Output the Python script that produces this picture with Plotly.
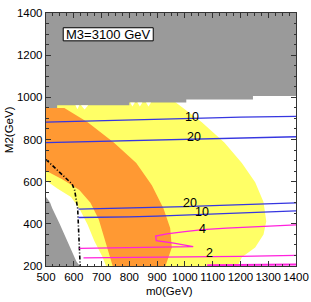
import plotly.graph_objects as go

# ---- data ----
# excluded (gray) region at top: step boundary
gray_top_m0 = [500, 500, 540, 540, 800, 800, 1005, 1005, 1245, 1245, 1400, 1400]
gray_top_M2 = [1400, 950, 950, 963, 963, 976, 976, 990, 990, 1006, 1006, 1400]

# small white notches along the gray boundary (triangles, separated by None)
notch_m0 = [606, 620, 613, None, 626, 652, 639, None, 803, 820, 811, None, 829, 847, 838, None, 860, 878, 869]
notch_M2 = [963, 963, 943, None, 963, 963, 942, None, 976, 976, 957, None, 976, 976, 957, None, 976, 976, 957]

# excluded (gray) region lower-left
gray_low_m0 = [500, 500, 507, 515, 522, 530, 540, 549, 557, 565, 573, 581, 588, 595, 603, 610, 616, 622]
gray_low_M2 = [200, 527, 515, 500, 475, 450, 425, 400, 375, 350, 325, 300, 280, 260, 240, 220, 210, 200]

# yellow region boundary
yellow_m0 = [500, 542, 590, 620, 650, 674, 704, 716, 1190, 1205, 1253, 1283, 1293, 1283, 1253, 1205, 1142, 1061, 965, 965, 500]
yellow_M2 = [606, 566, 527, 473, 396, 319, 242, 200, 200, 242, 288, 350, 412, 504, 597, 689, 786, 882, 978, 1000, 1000]

# orange region boundary
orange_m0 = [500, 560, 620, 660, 690, 710, 730, 740, 930, 940, 953, 947, 923, 881, 825, 745, 650, 566, 500]
orange_M2 = [652, 610, 560, 500, 420, 330, 250, 200, 200, 242, 288, 380, 473, 583, 689, 785, 882, 950, 950]

# dash-dot boundary
dd_m0 = [500, 530, 566, 594, 603, 608, 612, 614, 617, 620, 623]
dd_M2 = [705, 668, 624, 589, 560, 527, 500, 473, 381, 242, 200]

# blue contours
c10_top_m0 = [500, 600, 700, 800, 900, 1000, 1100, 1200, 1300, 1400]
c10_top_M2 = [882, 886, 889, 892, 896, 900, 903, 906, 908, 910]
c20_top_m0 = [500, 600, 700, 800, 900, 1000, 1100, 1160, 1200, 1300, 1400]
c20_top_M2 = [785, 788, 791, 794, 796, 800, 802, 806, 808, 810, 813]
c20_low_m0 = [617, 700, 800, 900, 1000, 1100, 1200, 1300, 1400]
c20_low_M2 = [470, 472, 475, 478, 482, 486, 490, 495, 499]
c10_low_m0 = [617, 700, 800, 900, 1000, 1100, 1200, 1300, 1400]
c10_low_M2 = [430, 431, 433, 437, 442, 448, 452, 457, 461]

# magenta contours
c4_m0 = [620, 700, 800, 875, 960, 1030, 960, 897, 895, 935, 1000, 1064, 1150, 1250, 1400]
c4_M2 = [284, 285, 286, 287, 289, 292, 308, 320, 342, 352, 363, 373, 380, 386, 395]
c2_m0 = [635, 800, 1000, 1100, 1200, 1300, 1400]
c2_M2 = [239, 240, 242, 244, 246, 248, 250]
c1_m0 = [1080, 1200, 1400]
c1_M2 = [204, 205, 207]

# contour labels
lab_text = ["10", "20", "20", "10", "4", "2"]
lab_m0 = [1027, 1031, 1020, 1061, 1064, 1088]
lab_M2 = [909, 810, 501, 458, 376, 260]

x_ticks = [500, 600, 700, 800, 900, 1000, 1100, 1200, 1300, 1400]
y_ticks = [200, 400, 600, 800, 1000, 1200, 1400]

GRAY = "#9a9a9a"
YELLOW = "#ffff66"
ORANGE = "#ff9933"
BLUE = "#3636e0"
MAGENTA = "#ff22dd"
FONT = "Liberation Sans, Arial, sans-serif"

fig = go.Figure()

def region(x, y, color):
    fig.add_trace(go.Scatter(x=x, y=y, fill="toself", fillcolor=color, mode="lines",
                             line=dict(width=0, color=color), hoverinfo="skip", showlegend=False))

def curve(x, y, color, width=1.3, dash="solid"):
    fig.add_trace(go.Scatter(x=x, y=y, mode="lines", line=dict(color=color, width=width, dash=dash),
                             hoverinfo="skip", showlegend=False))

region(yellow_m0, yellow_M2, YELLOW)
region(orange_m0, orange_M2, ORANGE)
region(gray_top_m0, gray_top_M2, GRAY)
region(notch_m0, notch_M2, "white")
region(gray_low_m0, gray_low_M2, GRAY)

curve(dd_m0, dd_M2, "black", width=1.6, dash="4px,2px,1px,2px")
curve(c10_top_m0, c10_top_M2, BLUE)
curve(c20_top_m0, c20_top_M2, BLUE)
curve(c20_low_m0, c20_low_M2, BLUE)
curve(c10_low_m0, c10_low_M2, BLUE)
curve(c4_m0, c4_M2, MAGENTA)
curve(c2_m0, c2_M2, MAGENTA)
curve(c1_m0, c1_M2, MAGENTA, width=2)

for t, xx, yy in zip(lab_text, lab_m0, lab_M2):
    fig.add_annotation(x=xx, y=yy, text=t, showarrow=False, xref="x", yref="y",
                       font=dict(family=FONT, size=12.5, color="black"))

# M3 label box
fig.add_shape(type="rect", xref="x", yref="y", x0=562, x1=886, y0=1268, y1=1330,
              line=dict(color="black", width=1), fillcolor="white", layer="above")
fig.add_annotation(x=724, y=1299, xref="x", yref="y", text="M3=3100 GeV", showarrow=False,
                   font=dict(family=FONT, size=13, color="black"))

# axis titles
fig.add_annotation(x=0.494, y=-0.10, xref="paper", yref="paper", text="m0(GeV)", showarrow=False,
                   xanchor="center", yanchor="middle", font=dict(family=FONT, size=11.5, color="black"))
fig.add_annotation(x=-0.145, y=0.54, xref="paper", yref="paper", text="M2(GeV)", showarrow=False,
                   textangle=-90, xanchor="center", yanchor="middle",
                   font=dict(family=FONT, size=11.5, color="black"))

axis_common = dict(showgrid=False, zeroline=False, showline=True, linecolor="#333", linewidth=1.2,
                   mirror="allticks", ticks="inside", ticklen=5, tickcolor="#333", tickwidth=1,
                   tickfont=dict(family=FONT, size=11.5, color="black"))

fig.update_xaxes(range=[500, 1400], tickvals=x_ticks, ticktext=[str(v) for v in x_ticks],
                 minor=dict(dtick=25, tick0=500, ticks="inside", ticklen=2.5, tickcolor="#333"),
                 **axis_common)
fig.update_yaxes(range=[200, 1400], tickvals=y_ticks, ticktext=[str(v) for v in y_ticks],
                 minor=dict(dtick=50, tick0=200, ticks="inside", ticklen=2.5, tickcolor="#333"),
                 **axis_common)

fig.update_layout(width=311, height=302, margin=dict(l=46, r=15, t=7, b=36),
                  paper_bgcolor="white", plot_bgcolor="white", showlegend=False)

fig.write_html("out.html", config={"displayModeBar": False, "staticPlot": True},
               post_script="document.body.style.margin='0';document.body.style.padding='0';")
